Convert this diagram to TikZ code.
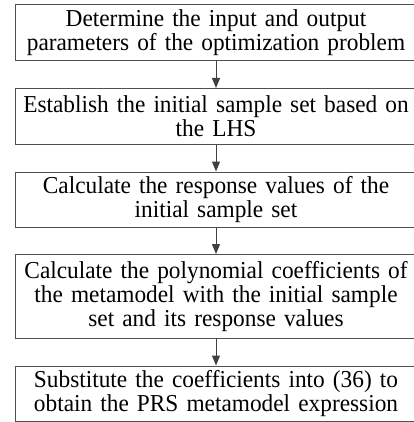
\documentclass[tikz,border=0pt]{standalone}
\usepackage{fontspec}
\setmainfont{Liberation Serif}[FakeStretch=0.96]
\usepackage{xcolor}
\usetikzlibrary{arrows.meta}
\definecolor{flowgray}{RGB}{80,80,80}
\definecolor{arrowgray}{RGB}{64,64,64}

\begin{document}
\begin{tikzpicture}[x=1pt, y=1pt,
    stepbox/.style={draw=flowgray, line width=1pt, minimum width=402pt,
        text width=400pt, align=center, inner sep=1pt,
        font=\fontsize{24.3}{24}\selectfont},
    flowarrow/.style={draw=arrowgray, line width=1pt,
        -{Triangle[length=10pt, width=8pt]}}]
    \useasboundingbox (0,0) rectangle (413,-422);

    % Inputs and outputs
    \node[stepbox, minimum height=56pt] (define) at (216,-33)
        {Determine the input and output\\parameters of the optimization problem};

    % Latin hypercube sampling
    \node[stepbox, minimum height=56pt] (sample) at (216,-116.5)
        {Establish the initial sample set based on\\the LHS};

    % Responses
    \node[stepbox, minimum height=55pt] (response) at (216,-199.5)
        {Calculate the response values of the\\initial sample set};

    % Coefficients
    \node[stepbox, minimum height=84pt] (coeff) at (216,-296.5)
        {Calculate the polynomial coefficients of\\the metamodel with the initial sample\\set and its response values};

    % PRS expression
    \node[stepbox, minimum height=55pt] (prs) at (216,-393.5)
        {Substitute the coefficients into (36) to\\obtain the PRS metamodel expression};

    % Arrows
    \draw[flowarrow] (define) -- (sample);
    \draw[flowarrow] (sample) -- (response);
    \draw[flowarrow] (response) -- (coeff);
    \draw[flowarrow] (coeff) -- (prs);
\end{tikzpicture}
\end{document}
